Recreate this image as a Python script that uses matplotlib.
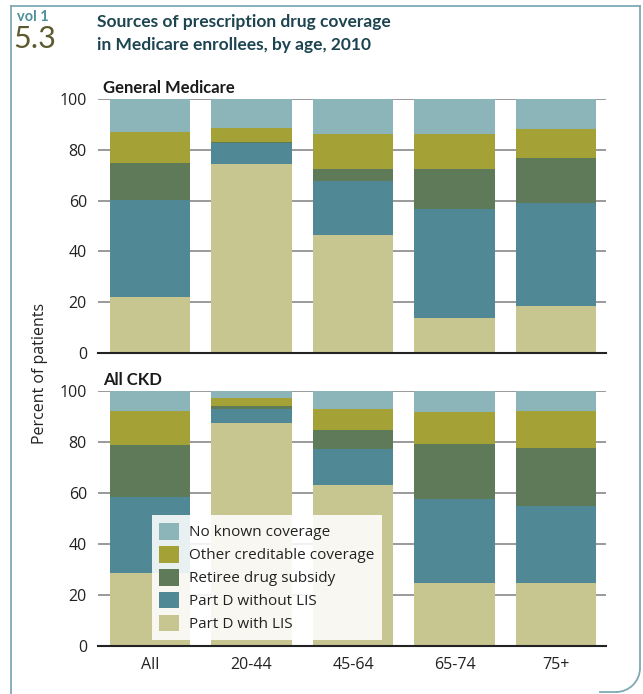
import numpy as np
import matplotlib
matplotlib.use("Agg")
import matplotlib.pyplot as plt
from matplotlib.lines import Line2D
from matplotlib.patches import Arc

plt.rcParams["font.family"] = ["Open Sans", "DejaVu Sans"]
narrow = ["Lato", "DejaVu Sans"]

# ==========================
# Data
# ==========================
ages = ["All", "20-44", "45-64", "65-74", "75+"]
series = ["Part D with LIS", "Part D without LIS", "Retiree drug subsidy",
          "Other creditable coverage", "No known coverage"]
colors = ["#c7c690", "#518895", "#5f7a59", "#a4a236", "#8bb5b8"]

# General Medicare (percent)
gm_with_lis = [22.2, 74.5, 46.6, 13.9, 18.6]
gm_without_lis = [38.2, 8.1, 21.2, 42.9, 40.6]
gm_retiree = [14.5, 0.3, 4.7, 15.7, 17.7]
gm_other = [12.2, 5.8, 13.8, 13.8, 11.4]
gm_none = [12.9, 11.3, 13.7, 13.7, 11.7]

# All CKD (percent)
ckd_with_lis = [28.7, 87.3, 63.1, 24.8, 24.8]
ckd_without_lis = [29.7, 5.5, 14.1, 32.8, 30.0]
ckd_retiree = [20.3, 1.2, 7.4, 21.5, 22.7]
ckd_other = [13.3, 3.3, 8.2, 12.5, 14.5]
ckd_none = [8.0, 2.7, 7.2, 8.4, 8.0]

panels = [
    ("General Medicare", [gm_with_lis, gm_without_lis, gm_retiree, gm_other, gm_none]),
    ("All CKD", [ckd_with_lis, ckd_without_lis, ckd_retiree, ckd_other, ckd_none]),
]

# ==========================
# Figure
# ==========================
fig = plt.figure(figsize=(6.43, 6.94), dpi=100)

ax_top = fig.add_axes([0.1524, 0.4914, 0.790, 0.3659])
ax_bot = fig.add_axes([0.1524, 0.0692, 0.790, 0.3674])

x = np.arange(len(ages))
handles = []

for ax, (name, stacks) in zip([ax_top, ax_bot], panels):
    bottom = np.zeros(len(ages))
    handles = []
    for vals, col, lab in zip(stacks, colors, series):
        b = ax.bar(x, vals, 0.79, bottom=bottom, color=col, label=lab, zorder=2)
        handles.append(b)
        bottom += np.array(vals)

    ax.set_xlim(-0.51, 4.49)
    ax.set_ylim(0, 100)
    ax.set_yticks([0, 20, 40, 60, 80, 100])
    ax.yaxis.grid(True, color="#9a9a9a", linewidth=1.4, zorder=0)
    ax.set_axisbelow(True)
    for s in ["top", "right", "left"]:
        ax.spines[s].set_visible(False)
    ax.spines["bottom"].set_color("#222222")
    ax.spines["bottom"].set_linewidth(1.5)
    ax.spines["bottom"].set_zorder(3)
    ax.tick_params(axis="y", length=0, pad=8, labelsize=11.5, labelcolor="#222222")
    ax.tick_params(axis="x", length=0, pad=8, labelsize=11.5, labelcolor="#222222")
    ax.text(0.01, 1.012, name, transform=ax.transAxes, fontsize=12,
            fontweight="bold", family=narrow,
            color="#1a1a1a", va="bottom", ha="left")

ax_top.set_xticks(x)
ax_top.set_xticklabels([])
ax_bot.set_xticks(x)
ax_bot.set_xticklabels(ages)

leg = ax_bot.legend(handles[::-1], series[::-1], loc="lower left",
                    bbox_to_anchor=(0.106, 0.024), borderaxespad=0,
                    fontsize=11, frameon=True, fancybox=False,
                    handlelength=1.3, handleheight=1.3, handletextpad=0.6,
                    labelspacing=0.36, borderpad=0.5)
leg.get_frame().set_facecolor("white")
leg.get_frame().set_alpha(0.88)
leg.get_frame().set_linewidth(0)
for t in leg.get_texts():
    t.set_color("#222222")

fig.text(0.062, 0.462, "Percent of patients", rotation=90, fontsize=11.5,
         color="#222222", ha="center", va="center")

# Header
fig.text(0.026, 0.976, "vol 1", fontsize=10.5, color="#4f8f99",
         family=narrow, fontweight="bold", ha="left", va="center")
fig.text(0.020, 0.944, "5.3", fontsize=22, color="#5c5a2e",
         family=narrow, ha="left", va="center")
fig.text(0.151, 0.969, "Sources of prescription drug coverage", fontsize=12.5,
         fontweight="bold", color="#1d4451",
         family=narrow, ha="left", va="center")
fig.text(0.151, 0.935, "in Medicare enrollees, by age, 2010", fontsize=12.5,
         fontweight="bold", color="#1d4451",
         family=narrow, ha="left", va="center")

# Frame border
fx = lambda px: px / 643
fy = lambda py: 1 - py / 694
border = "#7fa9b3"
fig.add_artist(Line2D([fx(11), fx(11)], [fy(694), fy(6)], color=border, lw=1.3))
fig.add_artist(Line2D([fx(11), fx(640)], [fy(6), fy(6)], color=border, lw=1.3))
fig.add_artist(Line2D([fx(640), fx(640)], [fy(6), fy(668)], color=border, lw=1.3))
fig.add_artist(Arc((fx(616), fy(668)), 2 * 24 / 643, 2 * 24 / 694,
                   theta1=270, theta2=360, color=border, lw=1.3,
                   transform=fig.transFigure))
fig.add_artist(Line2D([fx(600), fx(616)], [fy(692), fy(692)], color=border, lw=1.3))

fig.savefig("out.png", dpi=100)
